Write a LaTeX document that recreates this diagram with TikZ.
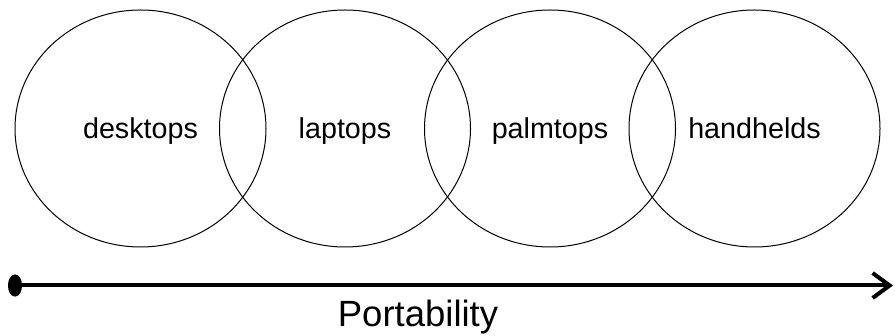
\documentclass[tikz,border=0pt]{standalone}
\usepackage{fontspec}
\setmainfont{Liberation Sans}
\usetikzlibrary{shapes.geometric,arrows.meta}
\begin{document}
\begin{tikzpicture}[x=1pt,y=-1pt,
  blob/.style={draw=black,line width=1pt,ellipse,inner sep=0pt,
    minimum width=251pt,minimum height=237pt},
  word/.style={anchor=base,inner sep=0pt,font=\fontsize{28.7pt}{32pt}\selectfont},
  axis/.style={line width=4pt,
    {Ellipse[length=14pt,width=22pt]}-{Straight Barb[length=17pt,width=25pt,line width=4pt]}}]
  \useasboundingbox (0,0) rectangle (895,336);
  % overlapping device classes
  \node[blob] (desk) at (140.5,128.5) {};
  \node[blob] (lap)  at (345,128.5) {};
  \node[blob] (palm) at (550,128.5) {};
  \node[blob] (hand) at (754.5,128.5) {};
  \node[word] (tdesk) at (140.5,139) {desktops};
  \node[word] (tlap)  at (345,139) {laptops};
  \node[word] (tpalm) at (550,139) {palmtops};
  \node[word] (thand) at (754.5,139) {handhelds};
  % portability axis
  \coordinate (lo) at (8,285.5);
  \coordinate (hi) at (893,285.5);
  \draw[axis] (lo) -- (hi);
  \node[anchor=base,inner sep=0pt,font=\fontsize{36.5pt}{40pt}\selectfont] (port) at (418,327) {Portability};
\end{tikzpicture}
\end{document}
